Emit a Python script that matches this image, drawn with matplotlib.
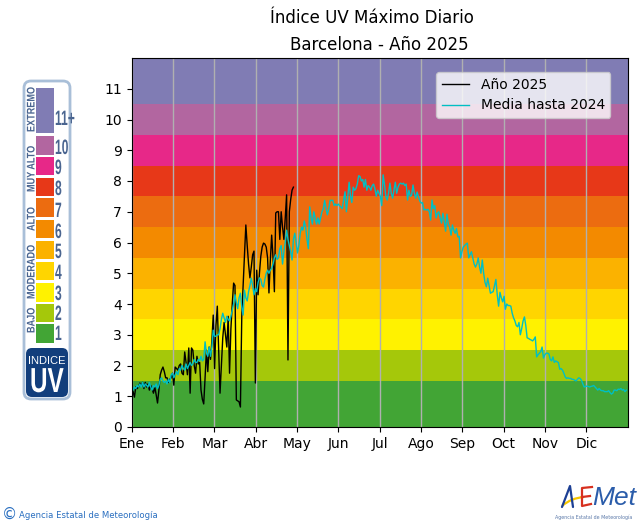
import numpy as np
import matplotlib
matplotlib.use('Agg')
import matplotlib.pyplot as plt
from matplotlib.patches import FancyBboxPatch, Rectangle, PathPatch
from matplotlib.patheffects import AbstractPathEffect
from matplotlib.path import Path
from matplotlib.transforms import Affine2D

# Meses del eje x
meses = ['Ene', 'Feb', 'Mar', 'Abr', 'May', 'Jun', 'Jul', 'Ago', 'Sep', 'Oct', 'Nov', 'Dic']

# Bandas de color del indice UV
limites = [0, 1.5, 2.5, 3.5, 4.5, 5.5, 6.5, 7.5, 8.5, 9.5, 10.5, 12]
colores = ['#42A535', '#A5C80A', '#FFF200', '#FFD500', '#FBB200', '#F38A00',
           '#EC6C10', '#E73818', '#E72888', '#B266A0', '#807CB4']

# Indice diario del 2025
anio_2025 = [1.27, 1.15, 0.97, 1.3, 1.25, 1.3, 1.43, 1.35, 1.45, 1.25,
             1.45, 1.3, 1.4, 1.2, 1.35, 1.25, 1.1, 1.3, 1.05, 0.78,
             1.2, 1.7, 1.85, 1.95, 1.8, 1.6, 1.6, 1.45, 1.55, 1.6,
             1.75, 1.36, 1.95, 1.9, 1.85, 2.0, 2.05, 1.75, 1.7, 2.44,
             2.1, 1.7, 2.57, 1.1, 2.57, 2.5, 2.0, 1.75, 2.3, 2.05,
             2.1, 1.2, 0.9, 0.75, 1.6, 2.5, 1.8, 2.6, 2.2, 2.8,
             3.64, 1.9, 3.3, 3.93, 2.5, 1.1, 2.0, 2.9, 3.4, 3.0,
             2.6, 3.6, 1.75, 3.2, 4.0, 4.68, 4.6, 0.88, 0.85, 0.82,
             0.65, 3.6, 4.6, 5.6, 6.57, 5.9, 5.3, 4.85, 5.2, 5.6,
             5.72, 1.43, 5.1, 4.3, 5.0, 5.55, 5.85, 5.98, 5.95, 5.85,
             5.5, 4.36, 5.4, 6.24, 5.5, 4.4, 6.96, 7.0, 7.0, 6.1,
             7.0, 6.5, 6.1, 6.8, 7.55, 2.18, 7.0, 7.4, 7.7, 7.8]

# Media diaria hasta 2024, mes a mes
media_ene = [1.2, 1.2, 1.3, 1.25, 1.35, 1.3, 1.4, 1.3, 1.45, 1.3,
             1.4, 1.35, 1.3, 1.45, 1.3, 1.2, 1.35, 1.3, 1.4, 1.25,
             1.35, 1.55, 1.6, 1.5, 1.45, 1.5, 1.4, 1.55, 1.45, 1.7, 1.75]
media_feb = [1.6, 1.7, 1.8, 1.7, 1.9, 1.85, 2.0, 1.9, 1.85, 2.05,
             1.9, 2.0, 2.1, 2.0, 2.05, 2.2, 2.1, 2.1, 2.2, 2.15,
             2.3, 2.15, 2.2, 2.77, 2.4, 2.3, 2.6, 2.3, 2.6, 3.15]
media_mar = [2.95, 2.95, 3.0, 3.0, 3.2, 3.5, 3.7, 3.55, 3.4, 3.6,
             3.5, 3.45, 3.6, 3.8, 4.0, 4.3, 4.05, 3.85, 4.2, 4.35,
             3.9, 3.64, 4.45, 4.2, 4.1, 4.4, 4.6, 4.84, 4.6, 4.3]
media_abr = [4.5, 4.4, 4.7, 4.85, 4.8, 4.6, 4.55, 4.8, 5.0, 5.1,
             5.0, 5.1, 5.15, 5.3, 5.5, 5.6, 5.45, 5.5, 5.8, 5.9,
             5.3, 5.7, 6.0, 6.4, 6.1, 5.9, 5.7, 5.43, 6.1, 6.3, 6.0]
media_may = [5.66, 5.9, 6.3, 6.5, 6.4, 6.7, 6.5, 6.1, 5.8, 7.16,
             6.8, 6.6, 7.0, 6.8, 6.6, 6.8, 6.6, 6.8, 7.0, 7.1,
             7.37, 7.1, 6.9, 7.1, 7.37, 7.37, 7.37, 7.2, 7.25, 7.2]
media_jun = [7.25, 7.2, 7.15, 7.1, 7.4, 7.65, 7.0, 7.5, 7.96, 7.5,
             7.3, 7.8, 7.7, 7.75, 7.9, 8.17, 8.15, 8.0, 8.05, 7.8,
             8.05, 7.7, 7.85, 7.8, 7.7, 7.85, 7.9, 7.75, 7.5, 7.7, 7.6]
media_jul = [7.5, 7.2, 8.2, 7.9, 7.5, 7.38, 7.6, 7.93, 7.6, 7.44,
             7.7, 7.96, 7.6, 7.8, 7.9, 7.93, 7.9, 7.93, 7.85, 7.9,
             7.38, 7.7, 7.5, 7.54, 7.87, 7.6, 7.44, 7.64, 7.5, 7.35]
media_ago = [7.28, 7.3, 7.06, 7.08, 7.05, 7.08, 7.0, 6.73, 7.38, 7.1,
             7.2, 6.8, 6.95, 7.0, 6.8, 6.63, 6.95, 6.7, 6.37, 6.92,
             6.6, 6.5, 6.24, 6.57, 6.4, 6.3, 6.45, 6.18, 6.2, 5.5, 5.7]
media_sep = [5.85, 5.9, 5.95, 5.98, 5.5, 5.6, 5.7, 5.5, 5.3, 5.2,
             5.3, 5.5, 5.2, 5.0, 5.43, 5.0, 4.7, 4.56, 4.84, 4.6,
             4.35, 4.38, 4.4, 4.6, 4.8, 4.3, 3.93, 4.38, 4.2, 4.07]
media_oct = [4.25, 3.83, 4.0, 3.95, 3.95, 3.93, 3.7, 3.55, 3.45, 3.3,
             3.26, 3.4, 3.0, 3.2, 3.45, 3.58, 3.3, 2.9, 2.88, 2.85,
             2.83, 2.8, 2.85, 2.93, 2.28, 2.35, 2.4, 2.45, 2.6, 2.24, 2.35]
media_nov = [2.4, 2.4, 2.38, 2.2, 2.15, 2.28, 2.1, 2.15, 2.12, 2.1,
             1.88, 1.9, 1.85, 1.75, 1.63, 1.58, 1.6, 1.58, 1.58, 1.55,
             1.55, 1.52, 1.5, 1.55, 1.6, 1.58, 1.52, 1.4, 1.3, 1.32]
media_dic = [1.33, 1.32, 1.3, 1.32, 1.33, 1.35, 1.3, 1.25, 1.2, 1.25,
             1.2, 1.18, 1.18, 1.15, 1.15, 1.15, 1.18, 1.12, 1.07, 1.1,
             1.2, 1.2, 1.18, 1.23, 1.22, 1.25, 1.2, 1.22, 1.15, 1.2]

media = (media_ene + media_feb + media_mar + media_abr + media_may + media_jun
         + media_jul + media_ago + media_sep + media_oct + media_nov + media_dic)

# Leyenda lateral de la escala
escala_num = ['1', '2', '3', '4', '5', '6', '7', '8', '9', '10', '11+']
escala_y = [(324, 343), (304, 322), (283, 302), (262, 280), (241, 259), (220, 238),
            (198, 217), (178, 196), (157, 175), (136, 155), (88, 133)]
escala_base = [340, 320, 300, 279, 258, 238, 217, 195, 174, 154, 125]
escala_txt = [('BAJO', 333), ('MODERADO', 299), ('ALTO', 231), ('MUY ALTO', 192), ('EXTREMO', 132)]

W, H = 640, 525
AZUL = '#4A6590'


class Estrechar(AbstractPathEffect):
    # Comprime el texto en horizontal, no hay fuente condensada instalada
    def __init__(self, sx):
        super().__init__()
        self.sx = sx

    def draw_path(self, renderer, gc, tpath, affine, rgbFace=None):
        renderer.draw_path(gc, tpath, Affine2D().scale(self.sx, 1) + affine, rgbFace)


fig = plt.figure(figsize=(W / 100, H / 100), dpi=100)
ax = fig.add_axes([131.7 / W, 1 - 427 / H, 496 / W, 369 / H])

# Bandas y series
for i in range(len(colores)):
    ax.axhspan(limites[i], limites[i + 1], color=colores[i], lw=0, zorder=0)

ax.plot(np.arange(len(anio_2025)), anio_2025, color='black', lw=1, label='Año 2025')
ax.plot(np.arange(len(media)), media, color='#00BFC4', lw=1, label='Media hasta 2024')

ax.set_xlim(0, 365)
ax.set_ylim(0, 12)
ax.set_xticks(np.arange(12) * 365 / 12)
ax.set_xticklabels(meses)
ax.set_yticks(range(12))
ax.grid(True, axis='x', color='#b0b0b0', lw=1)
ax.legend(loc='upper right', bbox_to_anchor=(0.979, 0.981))

# Titulos
ax.set_title('Barcelona - Año 2025', fontsize=12, pad=6)
fig.text(372 / W, 1 - 18 / H, 'Índice UV Máximo Diario', fontsize=12, ha='center', va='center')

# Capa en pixeles para la escala lateral y los logos
capa = fig.add_axes([0, 0, 1, 1], zorder=5)
capa.set_xlim(0, W)
capa.set_ylim(H, 0)
capa.axis('off')
capa.patch.set_alpha(0)

capa.add_patch(FancyBboxPatch((24, 81), 46, 318, boxstyle='round,pad=0,rounding_size=7',
                              fc='white', ec='#A9BFD8', lw=2))

for i in range(len(escala_num)):
    y0, y1 = escala_y[i]
    capa.add_patch(Rectangle((36, y0), 18, y1 - y0, fc=colores[i], ec='none'))
    capa.text(55, escala_base[i], escala_num[i], color=AZUL, fontsize=15, fontweight='bold',
              ha='left', va='baseline', family='Liberation Sans', path_effects=[Estrechar(0.58)])

for txt, y in escala_txt:
    capa.text(34.5, y, txt, color=AZUL, fontsize=8, fontweight='bold', rotation=90, rotation_mode='anchor',
              ha='left', va='baseline', family='Liberation Sans', path_effects=[Estrechar(0.82)])

capa.add_patch(FancyBboxPatch((29, 351), 36, 43, boxstyle='round,pad=3,rounding_size=6',
                              fc='#123E7C', ec='none'))
capa.text(47, 361, 'INDICE', color='white', fontsize=8, ha='center', va='center', family='Liberation Sans')
capa.text(30, 392, 'UV', color='white', fontsize=25, fontweight='bold', ha='left', va='baseline',
          family='Liberation Sans', path_effects=[Estrechar(0.7)])

# Pie izquierdo
capa.text(9, 514, '©', color='#2A6FC0', fontsize=11, ha='center', va='center')
capa.text(19, 515, 'Agencia Estatal de Meteorología', color='#2A6FC0', fontsize=6.1, ha='left', va='center')

# Logo AEMet
capa.plot([562, 570, 573], [507, 486, 507], color='#1C3F94', lw=1.6, solid_capstyle='round')
capa.add_patch(PathPatch(Path([(562, 506), (571, 498), (584, 497)],
                              [Path.MOVETO, Path.CURVE3, Path.CURVE3]),
                         fc='none', ec='#F7C600', lw=1.6))
capa.plot([592, 582, 582, 591], [487, 488, 506, 504], color='#D7301F', lw=1.6)
capa.plot([582, 590], [497, 496], color='#D7301F', lw=1.6)
capa.text(592, 505, 'Met', color='#2A5CAA', fontsize=19, style='italic', ha='left', va='baseline',
          family='Liberation Sans')
capa.text(594, 517, 'Agencia Estatal de Meteorología', color='#5A78A8', fontsize=3.4, ha='center', va='center')

plt.savefig('out.png', dpi=100)
